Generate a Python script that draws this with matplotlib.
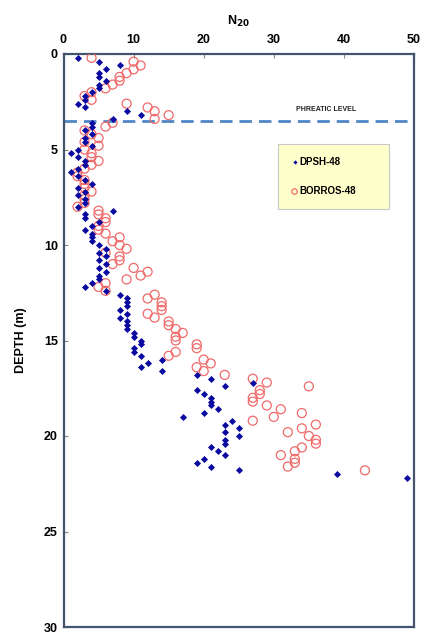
import matplotlib
matplotlib.use("Agg")
import matplotlib.pyplot as plt
import numpy as np

plt.rcParams['font.family'] = ['Liberation Sans', 'DejaVu Sans']

# DPSH-48 (blue diamonds): depth (m) and N20 blow counts
dpsh_depth = [0.2, 0.4, 0.6, 0.8, 1.0, 1.2, 1.4, 1.6, 1.8, 2.0, 2.2, 2.4, 2.6, 2.8, 3.0, 3.2, 3.4,
              3.6, 3.8, 4.0, 4.2, 4.4, 4.6, 4.8, 5.0, 5.2, 5.4, 5.6, 5.8, 6.0, 6.2, 6.4, 6.6, 6.8,
              7.0, 7.2, 7.4, 7.6, 7.8, 8.0, 8.2, 8.4, 8.6, 8.8, 9.0, 9.2, 9.4, 9.6, 9.8, 10.0,
              10.2, 10.4, 10.6, 10.8, 11.0, 11.2, 11.4, 11.6, 11.8, 12.0, 12.2, 12.4, 12.6, 12.8,
              13.0, 13.2, 13.4, 13.6, 13.8, 14.0, 14.2, 14.4, 14.6, 14.8, 15.0, 15.2, 15.4, 15.6,
              15.8, 16.0, 16.2, 16.4, 16.6, 16.8, 17.0, 17.2, 17.4, 17.6, 17.8, 18.0, 18.2, 18.4,
              18.6, 18.8, 19.0, 19.2, 19.4, 19.6, 19.8, 20.0, 20.2, 20.4, 20.6, 20.8, 21.0, 21.2,
              21.4, 21.6, 21.8, 22.0, 22.2]
dpsh_n = [2, 5, 8, 6, 5, 5, 6, 5, 5, 4, 3, 3, 2, 3, 9, 11, 7,
          4, 4, 3, 4, 3, 3, 4, 2, 1, 2, 3, 3, 2, 1, 2, 3, 4,
          2, 3, 2, 3, 3, 2, 7, 3, 3, 5, 4, 3, 4, 4, 4, 5,
          6, 5, 6, 5, 6, 5, 6, 5, 5, 4, 3, 6, 8, 9,
          9, 9, 8, 9, 8, 9, 9, 9, 10, 10, 11, 11, 10, 10,
          11, 14, 12, 11, 14, 19, 21, 27, 23, 19, 20, 21, 21, 21,
          22, 20, 17, 24, 23, 25, 23, 25, 23, 23, 21, 22, 23, 20,
          19, 21, 25, 39, 49]

# BORROS-48 (red open circles)
borros_depth = [0.2, 0.4, 0.6, 0.8, 1.0, 1.2, 1.4, 1.6, 1.8, 2.0, 2.2, 2.4, 2.6, 2.8, 3.0, 3.2, 3.4,
                3.6, 3.8, 4.0, 4.2, 4.4, 4.6, 4.8, 5.0, 5.2, 5.4, 5.6, 5.8, 6.0, 6.2, 6.4, 6.6, 6.8,
                7.0, 7.2, 7.4, 7.6, 7.8, 8.0, 8.2, 8.4, 8.6, 8.8, 9.0, 9.2, 9.4, 9.6, 9.8, 10.0,
                10.2, 10.4, 10.6, 10.8, 11.0, 11.2, 11.4, 11.6, 11.8, 12.0, 12.2, 12.4, 12.6, 12.8,
                13.0, 13.2, 13.4, 13.6, 13.8, 14.0, 14.2, 14.4, 14.6, 14.8, 15.0, 15.2, 15.4, 15.6,
                15.8, 16.0, 16.2, 16.4, 16.6, 16.8, 17.0, 17.2, 17.4, 17.6, 17.8, 18.0, 18.2, 18.4,
                18.6, 18.8, 19.0, 19.2, 19.4, 19.6, 19.8, 20.0, 20.2, 20.4, 20.6, 20.8, 21.0, 21.2,
                21.4, 21.6, 21.8]
borros_n = [4, 10, 11, 10, 9, 8, 8, 7, 6, 4, 3, 4, 9, 12, 13, 15, 13,
            7, 6, 3, 4, 5, 3, 5, 3, 4, 4, 5, 4, 3, 2, 2, 3, 3,
            3, 4, 3, 3, 3, 2, 5, 5, 6, 6, 5, 5, 6, 8, 7, 8,
            9, 6, 8, 8, 7, 10, 12, 11, 9, 6, 5, 6, 13, 12,
            14, 14, 14, 12, 13, 15, 15, 16, 17, 16, 16, 19, 19, 16,
            15, 20, 21, 19, 20, 23, 27, 29, 35, 28, 28, 27, 27, 29,
            31, 34, 30, 27, 36, 34, 32, 35, 36, 36, 34, 33, 31, 33,
            33, 32, 43]

phreatic_depth = 3.5
x_ticks = [0, 10, 20, 30, 40, 50]
y_ticks = [0, 5, 10, 15, 20, 25, 30]

fig = plt.figure(figsize=(4.22, 6.35), dpi=100)
ax = fig.add_axes([63.5 / 422, 1 - 627 / 635, 350.5 / 422, 573 / 635])

ax.scatter(borros_n, borros_depth, s=42, facecolors='none', edgecolors='#f06a6a',
           linewidths=0.9, label='BORROS-48', zorder=3)
ax.scatter(dpsh_n, dpsh_depth, s=13, marker='D', color='#0a0aa0', linewidths=0,
           label='DPSH-48', zorder=4)

ax.axhline(phreatic_depth, color='#4f86c6', linewidth=2, linestyle=(0, (4.5, 2.5)), zorder=2)
ax.text(37.4, 2.9, 'PHREATIC LEVEL', fontsize=5, fontweight='bold', ha='center', va='center',
        color='#222222')

ax.set_xlim(0, 50)
ax.set_ylim(30, 0)
ax.set_xticks(x_ticks)
ax.set_yticks(y_ticks)
ax.xaxis.tick_top()
ax.xaxis.set_label_position('top')
ax.tick_params(axis='both', direction='in', length=3, width=0.8, color='#888888',
               labelsize=9, pad=4)
ax.tick_params(axis='x', pad=6)
for lab in ax.get_xticklabels() + ax.get_yticklabels():
    lab.set_fontweight('bold')
ax.set_xlabel('N$_{\\mathbf{20}}$', fontsize=9, fontweight='bold', labelpad=6)
ax.set_ylabel('DEPTH (m)', fontsize=9, fontweight='bold', labelpad=12)

for sp in ax.spines.values():
    sp.set_color('#44546e')
    sp.set_linewidth(1.6)

handles, labels = ax.get_legend_handles_labels()
leg = ax.legend(handles[::-1], labels[::-1], loc='upper left',
                bbox_to_anchor=(0.612, 0.843, 0.317, 0.0), mode='expand',
                prop={'weight': 'bold', 'size': 7}, frameon=True, fancybox=False,
                facecolor='#ffffcc', edgecolor='#c8c8c8', framealpha=1, labelspacing=2.0,
                borderpad=1.3, handletextpad=0.05, handlelength=0.8, markerscale=0.6,
                borderaxespad=0)
leg.get_frame().set_linewidth(0.8)

fig.savefig('out.png', dpi=100)
